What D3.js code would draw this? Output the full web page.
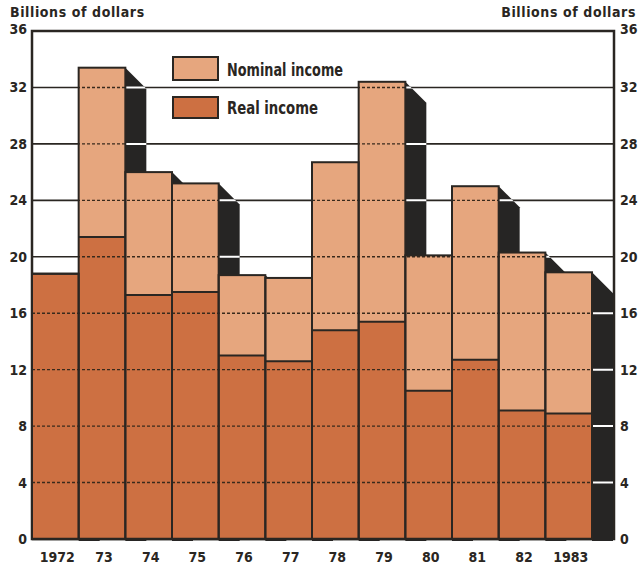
<!DOCTYPE html>
<html>
<head>
<meta charset="utf-8">
<script src="https://cdn.jsdelivr.net/npm/d3@7/dist/d3.min.js"></script>
<style>
  html, body { margin: 0; padding: 0; background: #ffffff; }
  svg { display: block; }
  .tick-label { font-family: "DejaVu Sans Condensed", "DejaVu Sans", sans-serif; font-weight: bold; font-size: 14px; fill: #2a2622; }
  .title { font-family: "DejaVu Sans Condensed", "DejaVu Sans", sans-serif; font-weight: bold; font-size: 14px; fill: #2a2622; }
  .legend-text { font-family: "DejaVu Sans Condensed", "DejaVu Sans", sans-serif; font-weight: bold; font-size: 17px; fill: #2a2622; }
</style>
</head>
<body>
<svg id="chart" width="638" height="567"></svg>
<script>
// Farm income by year, billions of dollars
const years   = ["1972", "73", "74", "75", "76", "77", "78", "79", "80", "81", "82", "1983"];
const nominal = [18.8, 33.4, 26.0, 25.2, 18.7, 18.5, 26.7, 32.4, 20.1, 25.0, 20.3, 18.9];
const real    = [18.8, 21.4, 17.3, 17.5, 13.0, 12.6, 14.8, 15.4, 10.5, 12.7, 9.1, 8.9];
const yTicks  = [0, 4, 8, 12, 16, 20, 24, 28, 32, 36];
const legendItems = ["Nominal income", "Real income"];

const colors = {
  nominal: "#e6a67e",
  real: "#cd7042",
  shadow: "#262524",
  ink: "#2a2622"
};

const svg = d3.select("#chart");

const plot = { left: 32, right: 614, top: 31, bottom: 539 };
const barsRight = 592;
const depth = 21;

const x = d3.scaleBand().domain(years).range([plot.left, barsRight]).padding(0);
const y = d3.scaleLinear().domain([0, 36]).range([plot.bottom, plot.top]);

const rows = years.map((yr, i) => ({ year: yr, nominal: nominal[i], real: real[i] }));

// solid grid lines on the open background
const gridTicks = yTicks.filter(t => t > 0 && t < 36);
svg.append("g").selectAll("line").data(gridTicks).join("line")
  .attr("x1", plot.left).attr("x2", plot.right)
  .attr("y1", d => y(d)).attr("y2", d => y(d))
  .attr("stroke", colors.ink).attr("stroke-width", 1.6);

// frame
svg.append("rect")
  .attr("x", plot.left).attr("y", plot.top)
  .attr("width", plot.right - plot.left).attr("height", plot.bottom - plot.top)
  .attr("fill", "none").attr("stroke", colors.ink).attr("stroke-width", 2.5);

// extruded shadow on the right side of every bar
const shadowPath = d => {
  const x1 = x(d.year) + x.bandwidth();
  const t = y(d.nominal);
  const b = y(0) + 2;
  return `M${x1},${t}L${x1 + depth},${t + depth}L${x1 + depth},${b}L${x1},${b}Z`;
};

const defs = svg.append("defs");
defs.append("clipPath").attr("id", "shadow-clip")
  .selectAll("path").data(rows).join("path").attr("d", shadowPath);
defs.append("clipPath").attr("id", "bar-clip")
  .selectAll("rect").data(rows).join("rect")
  .attr("x", d => x(d.year)).attr("width", x.bandwidth())
  .attr("y", d => y(d.nominal)).attr("height", d => y(0) - y(d.nominal));

svg.append("g").selectAll("path").data(rows).join("path")
  .attr("d", shadowPath)
  .attr("fill", colors.shadow);

// grid lines show white where they cross a shadow
svg.append("g").attr("clip-path", "url(#shadow-clip)")
  .selectAll("line").data(gridTicks).join("line")
  .attr("x1", plot.left).attr("x2", plot.right + 4)
  .attr("y1", d => y(d)).attr("y2", d => y(d))
  .attr("stroke", "#ffffff").attr("stroke-width", 2);

// bars: nominal total with real income in front
const bars = svg.append("g");
bars.selectAll("rect.nominal").data(rows).join("rect")
  .attr("class", "nominal")
  .attr("x", d => x(d.year)).attr("width", x.bandwidth())
  .attr("y", d => y(d.nominal)).attr("height", d => y(0) - y(d.nominal))
  .attr("fill", colors.nominal);
bars.selectAll("rect.real").data(rows).join("rect")
  .attr("class", "real")
  .attr("x", d => x(d.year)).attr("width", x.bandwidth())
  .attr("y", d => y(d.real)).attr("height", d => y(0) - y(d.real))
  .attr("fill", colors.real);

// dashed grid lines across the bars
svg.append("g").attr("clip-path", "url(#bar-clip)")
  .selectAll("line").data(gridTicks).join("line")
  .attr("x1", plot.left).attr("x2", barsRight)
  .attr("y1", d => y(d)).attr("y2", d => y(d))
  .attr("stroke", "#3a2a1c").attr("stroke-width", 1.4)
  .attr("stroke-dasharray", "3,2");

// bar outlines
const outlines = svg.append("g").attr("fill", "none").attr("stroke", colors.ink).attr("stroke-width", 2);
outlines.selectAll("rect.o-nominal").data(rows).join("rect")
  .attr("class", "o-nominal")
  .attr("x", d => x(d.year)).attr("width", x.bandwidth())
  .attr("y", d => y(d.nominal)).attr("height", d => y(0) - y(d.nominal));
outlines.selectAll("line.o-real").data(rows).join("line")
  .attr("class", "o-real")
  .attr("x1", d => x(d.year)).attr("x2", d => x(d.year) + x.bandwidth())
  .attr("y1", d => y(d.real)).attr("y2", d => y(d.real));

// baseline
svg.append("line")
  .attr("x1", plot.left).attr("x2", barsRight)
  .attr("y1", y(0)).attr("y2", y(0))
  .attr("stroke", colors.ink).attr("stroke-width", 2.5);

// value axes, left and right
const leftAxis = svg.append("g");
leftAxis.selectAll("text").data(yTicks).join("text")
  .attr("class", "tick-label")
  .attr("x", 27).attr("y", d => y(d)).attr("dy", d => d === 36 ? "0.22em" : "0.36em")
  .attr("text-anchor", "end")
  .text(d => d);
const rightAxis = svg.append("g");
rightAxis.selectAll("text").data(yTicks).join("text")
  .attr("class", "tick-label")
  .attr("x", 620).attr("y", d => y(d)).attr("dy", d => d === 36 ? "0.22em" : "0.36em")
  .attr("text-anchor", "start")
  .text(d => d);

// year labels
svg.append("g").selectAll("text").data(years).join("text")
  .attr("class", "tick-label")
  .attr("x", d => x(d) + x.bandwidth() / 2 + 2).attr("y", 562)
  .attr("text-anchor", "middle")
  .text(d => d);

// unit titles
svg.append("text").attr("class", "title").attr("x", 10).attr("y", 17)
  .attr("letter-spacing", "0.6px").text("Billions of dollars");
svg.append("text").attr("class", "title").attr("x", 636).attr("y", 17)
  .attr("text-anchor", "end").attr("letter-spacing", "0.6px").text("Billions of dollars");

// legend
const legend = svg.append("g");
const swatches = [
  { label: legendItems[0], color: colors.nominal, y: 57, h: 23, ty: 76, w: 116 },
  { label: legendItems[1], color: colors.real, y: 97, h: 21, ty: 114, w: 91 }
];
legend.selectAll("rect").data(swatches).join("rect")
  .attr("x", 173).attr("y", d => d.y).attr("width", 45).attr("height", d => d.h)
  .attr("fill", d => d.color).attr("stroke", colors.ink).attr("stroke-width", 2);
legend.selectAll("text").data(swatches).join("text")
  .attr("class", "legend-text")
  .attr("x", 227).attr("y", d => d.ty)
  .attr("textLength", d => d.w).attr("lengthAdjust", "spacingAndGlyphs")
  .text(d => d.label);
</script>
</body>
</html>
